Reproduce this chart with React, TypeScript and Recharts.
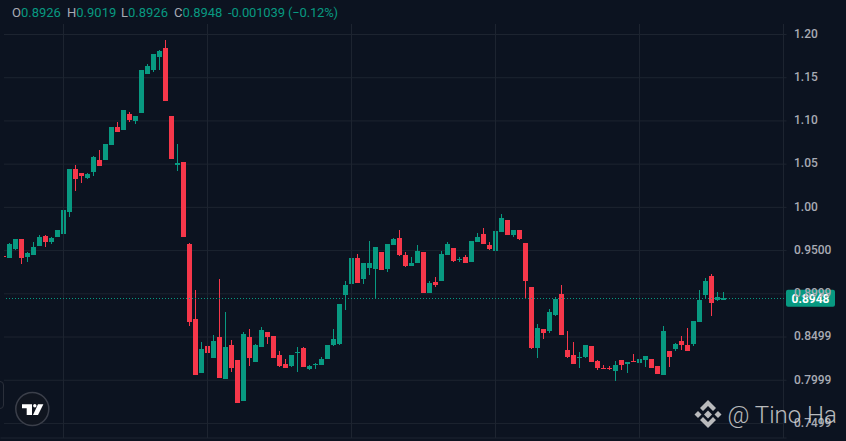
import { ComposedChart, Bar, XAxis, YAxis, CartesianGrid, ReferenceLine } from 'recharts'

const UP = '#089981'
const DOWN = '#f6374a'
const BG = '#0c1320'
const GRID = '#1d2430'
const AXIS_TEXT = '#a8abb4'

const opens = [
  0.9438,
  0.9414, 0.9518, 0.9634, 0.9426, 0.9449, 0.9553, 0.9669, 0.9599, 0.9657, 0.9692,
  0.9946, 1.0444, 1.0397, 1.034, 1.0409, 1.0548, 1.0548, 1.0721, 1.093, 1.0895,
  1.108, 1.0999, 1.1092, 1.1543, 1.1589, 1.174, 1.1844, 1.1057, 1.049, 1.0525,
  0.9576, 0.8709, 0.8083, 0.8396, 0.8257, 0.85, 0.8014, 0.8407, 0.8234, 0.776,
  0.85, 0.8211, 0.8384, 0.8558, 0.8512, 0.8292, 0.8188, 0.8164, 0.8315, 0.8373,
  0.813, 0.8176, 0.8176, 0.8246, 0.8407, 0.8419, 0.8986, 0.9114, 0.9414, 0.9172,
  0.9299, 0.9287, 0.9484, 0.9287, 0.9564, 0.9645, 0.9449, 0.9322, 0.9356, 0.9484,
  0.9009, 0.9137, 0.9149, 0.9449, 0.953, 0.9391, 0.9426, 0.9368, 0.9599, 0.9692,
  0.9564, 0.9495, 0.9715, 0.9854, 0.968, 0.9738, 0.9587, 0.9079, 0.8373, 0.8593,
  0.857, 0.8755, 0.8997, 0.835, 0.8292, 0.8257, 0.8269, 0.8396, 0.8223, 0.8141,
  0.8141, 0.8107, 0.8234, 0.8188, 0.8223, 0.8199, 0.8234, 0.8246, 0.8164, 0.806,
  0.8338, 0.8361, 0.8454, 0.8407, 0.8419, 0.8674, 0.8986, 0.9206, 0.8928, 0.8926
]

const highs = [
  0.9438,
  0.9587, 0.9634, 0.9634, 0.9484, 0.9599, 0.968, 0.968, 0.9657, 0.9738, 0.9981,
  1.0444, 1.049, 1.0397, 1.0397, 1.0594, 1.0663, 1.0733, 1.093, 1.0987, 1.1126,
  1.1103, 1.1057, 1.1589, 1.1659, 1.1774, 1.182, 1.1936, 1.1057, 1.0733, 1.0525,
  0.9587, 0.9044, 0.8442, 0.8581, 0.8523, 0.9172, 0.8789, 0.8465, 0.8234, 0.8558,
  0.8593, 0.8419, 0.8616, 0.8558, 0.8512, 0.8338, 0.8246, 0.8292, 0.8384, 0.8384,
  0.8176, 0.8199, 0.8269, 0.8407, 0.8593, 0.8882, 0.9149, 0.9426, 0.9461, 0.9356,
  0.9611, 0.9541, 0.9484, 0.9576, 0.9645, 0.9738, 0.9484, 0.9426, 0.9564, 0.9484,
  0.9149, 0.9195, 0.9495, 0.9599, 0.953, 0.9426, 0.9449, 0.9611, 0.9703, 0.9761,
  0.9599, 0.975, 0.9923, 0.9854, 0.9738, 0.9738, 0.9587, 0.9079, 0.8651, 0.8593,
  0.8824, 0.8963, 0.9102, 0.857, 0.8442, 0.8327, 0.8407, 0.8396, 0.8234, 0.8176,
  0.8164, 0.8223, 0.8234, 0.8211, 0.8304, 0.8246, 0.828, 0.8246, 0.8164, 0.8628,
  0.8338, 0.8431, 0.8512, 0.8604, 0.8685, 0.9044, 0.9183, 0.9229, 0.9021, 0.9019
]

const lows = [
  0.9426,
  0.9414, 0.9507, 0.9345, 0.9368, 0.9449, 0.9553, 0.9541, 0.9576, 0.9657, 0.9669,
  0.9888, 1.0189, 1.0282, 1.0328, 1.0363, 1.0479, 1.0548, 1.0721, 1.0872, 1.0895,
  1.0987, 1.0964, 1.1092, 1.1543, 1.1566, 1.1589, 1.123, 1.0559, 1.0421, 0.9657,
  0.8628, 0.806, 0.8083, 0.8315, 0.8257, 0.8026, 0.8014, 0.8095, 0.7736, 0.776,
  0.8164, 0.8211, 0.8384, 0.8419, 0.8257, 0.8153, 0.8141, 0.8153, 0.8095, 0.8153,
  0.8118, 0.813, 0.8176, 0.8246, 0.8396, 0.8407, 0.8812, 0.9114, 0.9125, 0.9114,
  0.9218, 0.8951, 0.9275, 0.9252, 0.9564, 0.9438, 0.931, 0.9322, 0.9356, 0.9009,
  0.9009, 0.9079, 0.9149, 0.9449, 0.9368, 0.9368, 0.9356, 0.9368, 0.9599, 0.9576,
  0.9507, 0.9484, 0.9715, 0.968, 0.9657, 0.9622, 0.8951, 0.8361, 0.8257, 0.8477,
  0.8546, 0.8743, 0.8523, 0.8257, 0.8188, 0.8141, 0.8257, 0.8211, 0.8118, 0.813,
  0.8118, 0.7991, 0.8118, 0.8083, 0.8211, 0.8153, 0.8153, 0.8141, 0.8072, 0.806,
  0.8153, 0.8338, 0.835, 0.8338, 0.8396, 0.8674, 0.8951, 0.8743, 0.8917, 0.8926
]

const closes = [
  0.9426,
  0.9576, 0.9634, 0.9414, 0.9472, 0.9541, 0.9657, 0.9599, 0.9645, 0.9738, 0.9969,
  1.0444, 1.0328, 1.0363, 1.0386, 1.0582, 1.0479, 1.0733, 1.093, 1.0872, 1.1126,
  1.101, 1.1057, 1.1589, 1.1635, 1.1774, 1.1809, 1.123, 1.0559, 1.0513, 0.9657,
  0.8674, 0.806, 0.8361, 0.8315, 0.8454, 0.8026, 0.8384, 0.8141, 0.7736, 0.8535,
  0.8257, 0.8407, 0.8581, 0.85, 0.8257, 0.8164, 0.8141, 0.8292, 0.8327, 0.8153,
  0.8164, 0.8188, 0.8246, 0.8407, 0.8477, 0.8882, 0.9102, 0.9414, 0.9125, 0.9356,
  0.9356, 0.9541, 0.9275, 0.9576, 0.9634, 0.9449, 0.9322, 0.9356, 0.9495, 0.9009,
  0.9125, 0.9102, 0.9461, 0.9576, 0.938, 0.9403, 0.9356, 0.9611, 0.9657, 0.9576,
  0.9518, 0.9726, 0.9877, 0.968, 0.9738, 0.9634, 0.9149, 0.8373, 0.8604, 0.8546,
  0.8789, 0.894, 0.8523, 0.8269, 0.8188, 0.8269, 0.8407, 0.8211, 0.8141, 0.813,
  0.813, 0.8176, 0.8176, 0.8211, 0.8211, 0.8246, 0.828, 0.8141, 0.8072, 0.857,
  0.8269, 0.8419, 0.8407, 0.8338, 0.8685, 0.8928, 0.9149, 0.8894, 0.8963, 0.8948
]

const priceTicks = [1.2, 1.15, 1.1, 1.05, 1.0, 0.95, 0.9, 0.85, 0.8, 0.75]
const priceLabels = ['1.20', '1.15', '1.10', '1.05', '1.00', '0.9500', '0.8999', '0.8499', '0.7999', '0.7499']
const timeLines = [10, 34, 58, 82, 106, 130]
const lastPrice = 0.8948
const emptySlots = 10

const legend = [
  { left: 12, key: 'O', value: '0.8926' },
  { left: 67, key: 'H', value: '0.9019' },
  { left: 121, key: 'L', value: '0.8926' },
  { left: 174, key: 'C', value: '0.8948' },
  { left: 228, key: '', value: '-0.001039 (−0.12%)' }
]

const rows = [
  ...opens.map((open, i) => ({
    idx: i,
    open,
    close: closes[i],
    range: [lows[i], highs[i]]
  })),
  ...Array.from({ length: emptySlots }, (_, i) => ({ idx: opens.length + i, open: null, close: null, range: null }))
]

function Candle(props: any) {
  const { y, width, height, payload } = props
  if (!payload || payload.open == null) return null
  // recharts puts the bar half a pixel off, nudge it onto whole pixels
  const x = props.x - 0.5
  const [low, high] = payload.range
  const top = Math.min(y, y + height)
  const span = Math.abs(height)
  const perUnit = high > low ? span / (high - low) : 0
  const bodyTop = Math.round(top + (high - Math.max(payload.open, payload.close)) * perUnit)
  const bodyBottom = Math.round(top + (high - Math.min(payload.open, payload.close)) * perUnit)
  const color = payload.close >= payload.open ? UP : DOWN
  // the plot is cut off at x=4, the first candle only peeks in
  const left = Math.max(x, 4)
  return (
    <g shapeRendering="crispEdges">
      {x >= 4 && <rect x={x + 2} y={Math.round(top)} width={1} height={Math.round(span)} fill={color} />}
      <rect x={left} y={bodyTop} width={x + width - left} height={Math.max(bodyBottom - bodyTop, 1)} fill={color} />
    </g>
  )
}

function PriceTag(props: any) {
  const { viewBox } = props
  if (!viewBox) return null
  const left = viewBox.x + viewBox.width
  const mid = viewBox.y
  return (
    <g>
      <rect x={left - 0.5} y={mid - 8.5} width={49} height={17} rx={2} fill={UP} />
      <text x={left + 24} y={mid + 4.5} textAnchor="middle" fontSize={12} fontWeight={700} fontFamily="Roboto" fill="#ffffff">
        {lastPrice.toFixed(4)}
      </text>
    </g>
  )
}

export default function App() {
  return (
    <div style={{ position: 'fixed', left: 0, top: 0, width: 846, height: 441, background: BG, overflow: 'hidden' }}>
      <ComposedChart
        width={846}
        height={441}
        data={rows}
        margin={{ top: 24, right: 0, bottom: 3, left: 0.5 }}
        barCategoryGap={0}
      >
        <CartesianGrid x={4} width={782.5} vertical={false} stroke={GRID} horizontalValues={priceTicks} />
        <XAxis dataKey="idx" hide />
        <YAxis
          orientation="right"
          width={59.5}
          domain={[0.73318, 1.21215]}
          allowDataOverflow
          ticks={priceTicks}
          interval={0}
          tickFormatter={(v: number) => priceLabels[priceTicks.indexOf(v)]}
          tickLine={false}
          axisLine={false}
          tickSize={0}
          tickMargin={7.5}
          tick={{ fill: AXIS_TEXT, fontSize: 12, fontFamily: 'Roboto', fontWeight: 500, dy: -1 }}
        />
        {timeLines.map((t) => (
          <ReferenceLine key={t} x={t} stroke={GRID} />
        ))}
        <ReferenceLine y={0.73318} stroke={GRID} />
        <Bar dataKey="range" barSize={5} shape={<Candle />} isAnimationActive={false} />
        <ReferenceLine
          y={lastPrice}
          stroke={UP}
          strokeDasharray="1 2"
          strokeDashoffset={0.5}
          shapeRendering="crispEdges"
          label={<PriceTag />}
        />
      </ComposedChart>

      {/* price line starts where the plot starts */}
      <div style={{ position: 'absolute', left: 0, top: 296, width: 4, height: 5, background: BG }} />

      {legend.map((item) => (
        <div
          key={item.left}
          style={{
            position: 'absolute',
            left: item.left,
            top: 5,
            fontFamily: 'Roboto',
            fontSize: 13,
            lineHeight: '16px',
            whiteSpace: 'nowrap',
            color: UP,
            letterSpacing: item.key ? 0 : -0.15
          }}
        >
          <span style={{ color: AXIS_TEXT }}>{item.key}</span>
          {item.value}
        </div>
      ))}

      <div
        style={{
          position: 'absolute',
          left: -6,
          top: 381,
          width: 8,
          height: 26,
          border: '1px solid #2a2f3a',
          borderRadius: 4
        }}
      />

      <svg width={846} height={441} style={{ position: 'absolute', left: 0, top: 0 }}>
        <circle cx={32.3} cy={409} r={16.5} fill="#10151f" stroke="#3b3f4a" strokeWidth={1.5} />
        <path d="M22 404.3H32V415H26.7V408.3H22Z" fill="#ffffff" />
        <circle cx={34.8} cy={405.8} r={1.7} fill="#ffffff" />
        <path d="M38 404.3H43.4L38 415H33Z" fill="#ffffff" />
        <g fill="#d8d8d8" opacity={0.85}>
          <path d="M708 400L716 408L713 411L708 406L703 411L700 408Z" />
          <path d="M708 428L716 420L713 417L708 422L703 417L700 420Z" />
          <path d="M708 410.5L712 414.5L708 418.5L704 414.5Z" />
          <path d="M698 411L701.5 414.5L698 418L694.5 414.5Z" />
          <path d="M718 411L721.5 414.5L718 418L714.5 414.5Z" />
        </g>
        <text x={727.5} y={423.3} fontSize={24} fontWeight={300} fontFamily="Roboto" fill="#d8d8d8" opacity={0.85}>
          @ Tino Ha
        </text>
      </svg>
    </div>
  )
}
